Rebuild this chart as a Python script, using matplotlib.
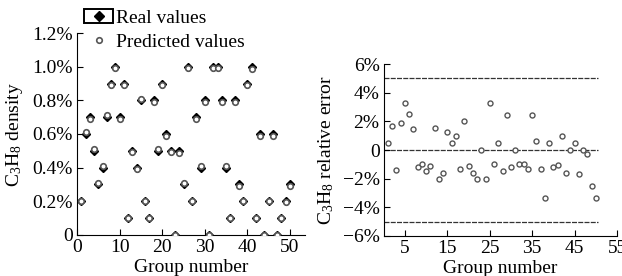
import numpy as np
import matplotlib.pyplot as plt
from matplotlib.patches import Patch
from matplotlib.lines import Line2D
from matplotlib.legend_handler import HandlerTuple

plt.rcParams['font.family'] = ['Liberation Serif', 'DejaVu Serif']
plt.rcParams['mathtext.fontset'] = 'custom'
plt.rcParams['mathtext.rm'] = 'Liberation Serif'
plt.rcParams['mathtext.it'] = 'Liberation Serif'

# C3H8 density (%), real values per group
groups = np.arange(1, 51)
real = [0.2, 0.6, 0.7, 0.5, 0.3, 0.4, 0.7, 0.9, 1.0, 0.7,
        0.9, 0.1, 0.5, 0.4, 0.8, 0.2, 0.1, 0.8, 0.5, 0.9,
        0.6, 0.5, 0.0, 0.5, 0.3, 1.0, 0.2, 0.7, 0.4, 0.8,
        0.0, 1.0, 1.0, 0.8, 0.4, 0.1, 0.8, 0.3, 0.2, 0.9,
        1.0, 0.1, 0.6, 0.0, 0.2, 0.6, 0.0, 0.1, 0.2, 0.3]
# relative error of prediction (%)
rel_err = [0.5, 1.7, -1.4, 1.9, 3.3, 2.5, 1.45, -1.2, -1.0, -1.45,
           -1.15, 1.55, -2.0, -1.6, 1.25, 0.5, 0.98, -1.3, 2.0, -1.15,
           -1.6, -2.0, 0.0, -2.05, 3.3, -1.0, 0.5, -1.45, 2.45, -1.2,
           0.0, -1.0, -0.95, -1.3, 2.45, 0.65, -1.3, -3.35, 0.5, -1.2,
           -1.05, 0.98, -1.6, 0.0, 0.5, -1.65, 0.0, -0.27, -2.5, -3.35]

real = np.array(real)
rel_err = np.array(rel_err)
pred = real * (1 + rel_err / 100)

left_yticks = [0, 0.2, 0.4, 0.6, 0.8, 1.0, 1.2]
left_ylabels = ['0', '0.2%', '0.4%', '0.6%', '0.8%', '1.0%', '1.2%']
right_yticks = [-6, -4, -2, 0, 2, 4, 6]
right_ylabels = ['\u22126%', '\u22124%', '\u22122%', '0', '2%', '4%', '6%']
limit_lines = [5, 0, -5]

fs = 14
fig = plt.figure(figsize=(6.22, 2.76), dpi=100)

# ---- left panel
ax1 = fig.add_axes([0.124, 0.149, 0.366, 0.731])
ax1.plot(groups, real, ls='', marker='D', ms=4.5, color='black', zorder=2)
ax1.plot(groups, pred, ls='', marker='o', ms=4, mfc='white', mec='#555555', mew=1.2, zorder=3)
ax1.set_xlim(0, 53.5)
ax1.set_ylim(0, 1.2)
ax1.set_xticks([0, 10, 20, 30, 40, 50])
ax1.set_yticks(left_yticks)
ax1.set_yticklabels(left_ylabels)
ax1.spines['top'].set_visible(False)
ax1.spines['right'].set_visible(False)
ax1.tick_params(direction='in', labelsize=fs, length=4, pad=3)
ax1.set_xlabel('Group number', fontsize=fs, labelpad=2)
ax1.set_ylabel(r'C$_3$H$_8$ density', fontsize=fs, labelpad=5)

real_h = (Patch(facecolor='white', edgecolor='black', lw=1.4),
          Line2D([], [], ls='', marker='D', ms=5, color='black'))
pred_h = Line2D([], [], ls='', marker='o', ms=4, mfc='white', mec='#555555', mew=1.2)
fig.legend([real_h, pred_h], ['Real values', 'Predicted values'],
           handler_map={tuple: HandlerTuple(ndivide=1)},
           loc='upper left', bbox_to_anchor=(0.135, 0.968), frameon=False,
           fontsize=fs, handlelength=1.5, handleheight=0.75, handletextpad=0.15,
           labelspacing=0.35, borderaxespad=0, borderpad=0)

# ---- right panel
ax2 = fig.add_axes([0.617, 0.145, 0.375, 0.623])
for v in limit_lines:
    ax2.plot([0, 50.5], [v, v], color='#333333', lw=0.9, ls=(0, (4, 1)), zorder=1)
ax2.plot(groups, rel_err, ls='', marker='o', ms=3.6, mfc='white', mec='#555555', mew=1.0, zorder=3)
ax2.set_xlim(0, 55)
ax2.set_ylim(-6, 6)
ax2.set_xticks([5, 15, 25, 35, 45, 55])
ax2.set_yticks(right_yticks)
ax2.set_yticklabels(right_ylabels)
ax2.spines['top'].set_visible(False)
ax2.spines['right'].set_visible(False)
ax2.tick_params(direction='in', labelsize=fs, length=4, pad=3)
ax2.set_xlabel('Group number', fontsize=fs, labelpad=2)
ax2.set_ylabel(r'C$_3$H$_8$ relative error', fontsize=fs, labelpad=5)

fig.savefig('out.png', dpi=100)
